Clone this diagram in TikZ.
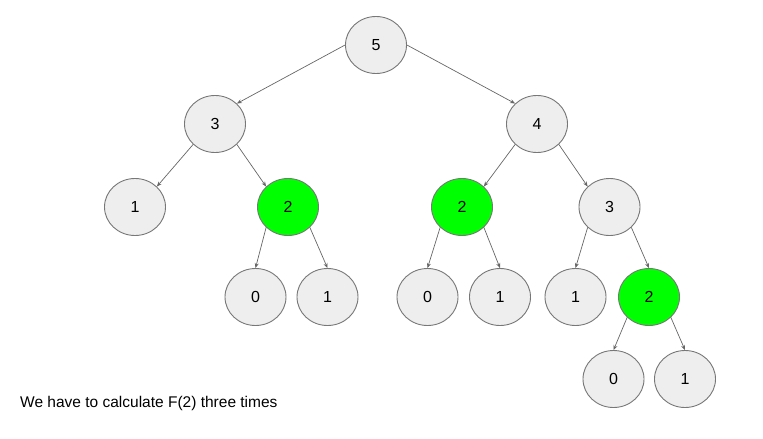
\documentclass[tikz,border=0pt]{standalone}
\usepackage{fontspec}
\setmainfont{Liberation Sans}
\usetikzlibrary{shapes.geometric,arrows.meta}
\definecolor{nodefill}{HTML}{EEEEEE}
\definecolor{nodeline}{HTML}{777777}
\definecolor{edgeline}{HTML}{666666}
\definecolor{hot}{HTML}{00FF00}
\begin{document}
\begin{tikzpicture}[x=1pt,y=-1pt,
  callnode/.style={ellipse,draw=nodeline,fill=nodefill,line width=0.9pt,minimum width=61pt,minimum height=57pt,inner sep=0pt,font=\fontsize{16}{18}\selectfont},
  repnode/.style={callnode,fill=hot},
  edge/.style={draw=edgeline,line width=0.7pt,-{Stealth[length=5pt,width=4pt]}}]
\useasboundingbox (0,0) rectangle (763,439);
\node[callnode] (n5) at (376,45) {5};
\node[callnode] (n3a) at (215,124) {3};
\node[callnode] (n4) at (537,124) {4};
\node[callnode] (n1a) at (135,207) {1};
\node[repnode] (n2a) at (288,207) {2};
\node[repnode] (n2b) at (462,207) {2};
\node[callnode] (n3b) at (609.5,207) {3};
\node[callnode] (n0a) at (255.5,297) {0};
\node[callnode] (n1b) at (327.5,297) {1};
\node[callnode] (n0b) at (427.5,297) {0};
\node[callnode] (n1c) at (500,297) {1};
\node[callnode] (n1d) at (575.5,297) {1};
\node[repnode] (n2c) at (649,297) {2};
\node[callnode] (n0c) at (613.5,379) {0};
\node[callnode] (n1e) at (685,379) {1};
\draw[edge] (n5.west) -- (n3a.north east);
\draw[edge] (n5.east) -- (n4.north west);
\draw[edge] (n3a.south west) -- (n1a.north east);
\draw[edge] (n3a.south east) -- (n2a.north west);
\draw[edge] (n4.south west) -- (n2b.north east);
\draw[edge] (n4.south east) -- (n3b.north west);
\draw[edge] (n2a.south west) -- (n0a.north);
\draw[edge] (n2a.south east) -- (n1b.north);
\draw[edge] (n2b.south west) -- (n0b.north);
\draw[edge] (n2b.south east) -- (n1c.north);
\draw[edge] (n3b.south west) -- (n1d.north);
\draw[edge] (n3b.south east) -- (n2c.north);
\draw[edge] (n2c.south west) -- (n0c.north);
\draw[edge] (n2c.south east) -- (n1e.north);
\node[anchor=base west,inner sep=0pt,font=\fontsize{15.5}{18}\selectfont] (caption) at (20,407) {We have to calculate F(2) three times};
\end{tikzpicture}
\end{document}
